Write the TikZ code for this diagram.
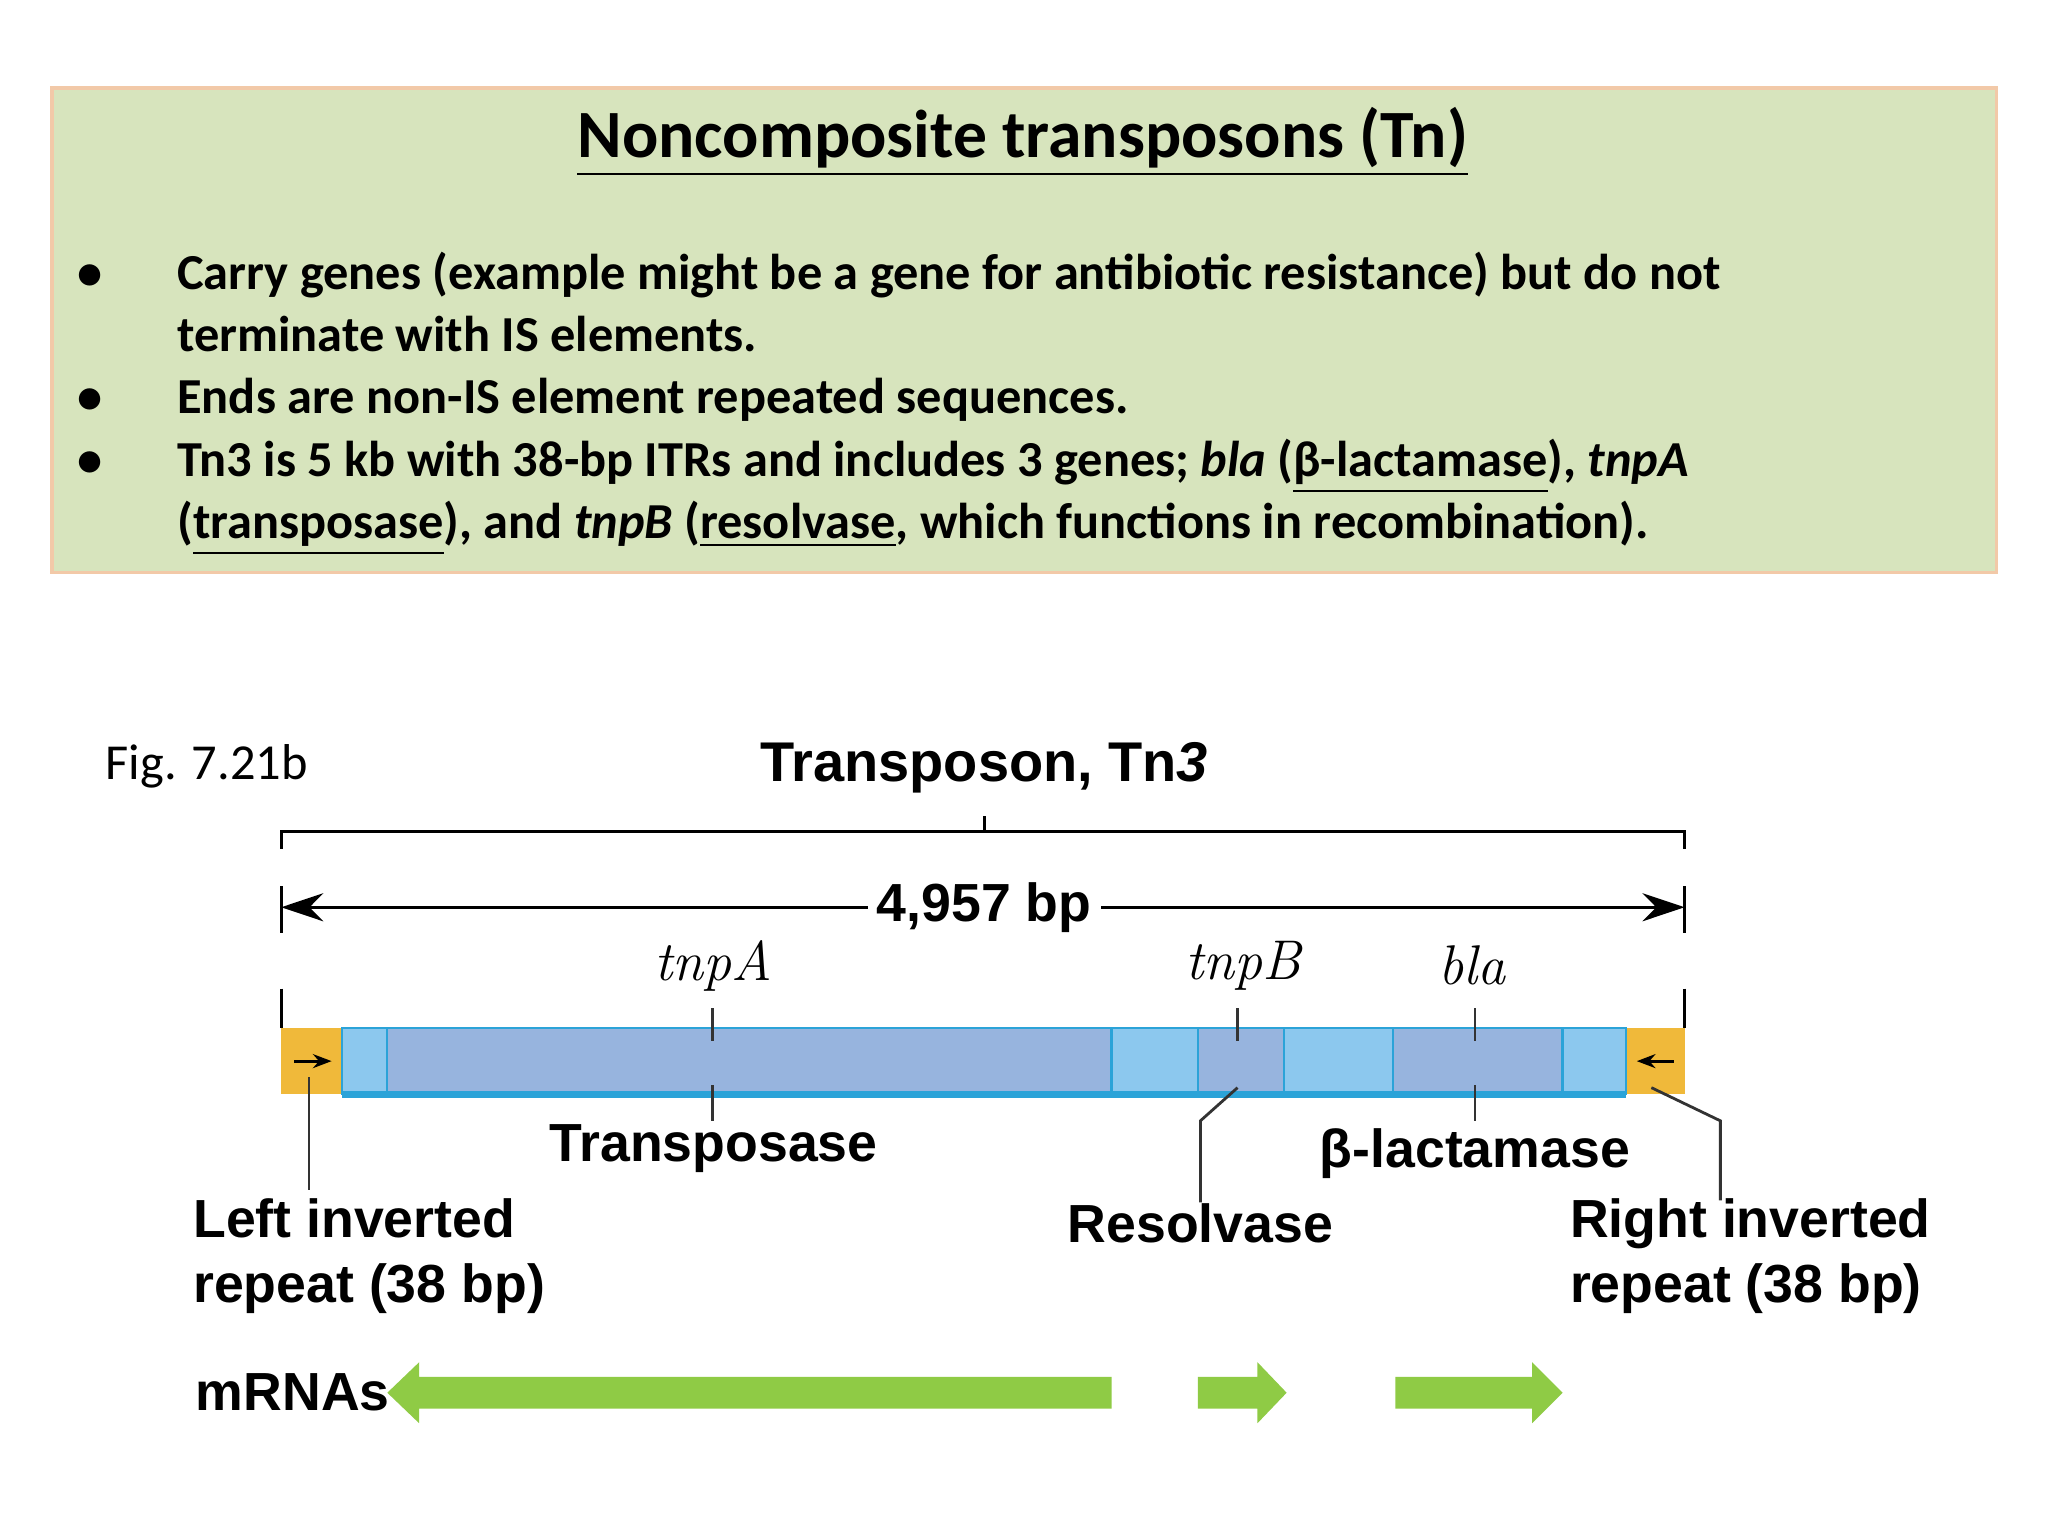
\documentclass[tikz,border=0pt]{standalone}
\usepackage{fontspec}
\setmainfont{Carlito}
\newfontfamily\arial{Liberation Sans}
\newfontfamily\lmserif{Latin Modern Roman}
\usetikzlibrary{arrows.meta}
\definecolor{boxgreen}{HTML}{D7E4BD}
\definecolor{boxedge}{HTML}{F2C9A8}
\definecolor{ylw}{HTML}{F0B93A}
\definecolor{lblue}{HTML}{8CC8EE}
\definecolor{dblue}{HTML}{97B4DE}
\definecolor{edgeblue}{HTML}{2BA3D8}
\definecolor{mgreen}{HTML}{8FCB45}
\tikzset{
 body/.style={font=\fontsize{10.8}{13}\selectfont\bfseries,anchor=base west,inner sep=0},
 lab/.style={font=\arial\fontsize{11.5}{14}\selectfont\bfseries,inner sep=0},
 gene/.style={font=\lmserif\fontsize{12}{14}\selectfont\itshape,inner sep=0},
 seg/.style={draw=edgeblue,line width=0.5pt},
 lead/.style={draw=black!80,line width=0.6pt},
 mrna/.style={fill=mgreen,draw=none}
}
\begin{document}
\begin{tikzpicture}[x=0.01cm,y=-0.01cm]
\useasboundingbox (0,0) rectangle (1544,1158);
\fill[white] (0,0) rectangle (1544,1158);
% text box
\node[draw=boxedge,fill=boxgreen,line width=0.8pt,minimum width=14.65cm,minimum height=3.65cm,anchor=north west,inner sep=0] (box) at (38,65) {};
\node[font=\fontsize{14.5}{17}\selectfont\bfseries,inner sep=0] (title) at (771,107) {\underline{Noncomposite transposons (Tn)}};
\node[body] (b1) at (58,218) {•};
\node[body] (b2) at (58,312) {•};
\node[body] (b3) at (58,359) {•};
\node[body] (t1) at (133,218) {Carry genes (example might be a gene for antibiotic resistance) but do not};
\node[body] (t2) at (133,265) {terminate with IS elements.};
\node[body] (t3) at (133,312) {Ends are non-IS element repeated sequences.};
\node[body] (t4) at (133,359) {Tn3 is 5 kb with 38-bp ITRs and includes 3 genes; \textit{bla} (\underline{β-lactamase}), \textit{tnpA}};
\node[body] (t5) at (133,406) {(\underline{transposase}), and \textit{tnpB} (\underline{resolvase}, which functions in recombination).};
% figure
\node[font=\fontsize{10.8}{13}\selectfont,anchor=west,inner sep=0] (fig) at (79,578) {Fig. 7.21b};
\node[lab,font=\arial\fontsize{12}{14}\selectfont\bfseries] (tn) at (742,579) {Transposon, Tn\textit{3}};
% bracket
\coordinate (bl) at (212,640); \coordinate (br) at (1270,640);
\draw[line width=0.7pt] (bl) -- (212,627) -- (1270,627) -- (br);
\coordinate (bc1) at (742,627); \coordinate (bc2) at (742,615);
\draw[line width=0.7pt] (bc1) -- (bc2);
% dimension
\coordinate (dl) at (212,684); \coordinate (dr) at (1270,684);
\draw[line width=0.7pt,{Stealth[length=9pt,width=6pt]}-{Stealth[length=9pt,width=6pt]}] (dl) -- (dr);
\node[lab,fill=white,inner sep=2pt] (bp) at (742,684) {4,957 bp};
\draw[line width=0.7pt,dash pattern=on 10pt off 12pt] (212,668) -- (212,775);
\draw[line width=0.7pt,dash pattern=on 10pt off 12pt] (1270,668) -- (1270,775);
% bar
\fill[ylw] (212,775) rectangle (258,825);
\fill[ylw] (1226,775) rectangle (1270,825);
\foreach \a/\b/\c in {258/292/lblue,292/838/dblue,838/903/lblue,903/968/dblue,968/1050/lblue,1050/1178/dblue,1178/1226/lblue}
  \filldraw[fill=\c,seg] (\a,775) rectangle (\b,825);
\draw[edgeblue,line width=1.4pt] (258,825) -- (1226,825);
\draw[-{Stealth[length=4pt]},line width=0.6pt] (222,800) -- (250,800);
\draw[-{Stealth[length=4pt]},line width=0.6pt] (1262,800) -- (1234,800);
% genes
\node[gene] (tnpA) at (538,728) {tnpA};
\node[gene] (tnpB) at (937,728) {tnpB};
\node[gene] (bla) at (1110,728) {bla};
\draw[lead] (537,760) -- (537,785);
\draw[lead] (933,760) -- (933,785);
\draw[lead] (1112,760) -- (1112,785);
\draw[lead] (537,818) -- (537,845);
\draw[lead] (1112,818) -- (1112,845);
\node[lab] (tp) at (538,866) {Transposase};
\node[lab] (bl2) at (1112,870) {β-lactamase};
\node[lab] (res) at (905,922) {Resolvase};
\draw[lead] (933,820) -- (905,845) -- (res.north);
\node[lab,align=left,anchor=north west] (lir) at (145,903) {Left inverted\\repeat (38 bp)};
\draw[lead] (233,812) -- (233,897);
\node[lab,align=left,anchor=north west] (rir) at (1183,903) {Right inverted\\repeat (38 bp)};
\draw[lead] (1245,820) -- (1297,845) -- (1297,905);
% mRNAs
\node[lab,anchor=west] (mr) at (147,1050) {mRNAs};
\fill[mrna] (838,1038) -- (316,1038) -- (316,1027) -- (292,1050) -- (316,1073) -- (316,1062) -- (838,1062) -- cycle;
\fill[mrna] (903,1038) -- (948,1038) -- (948,1027) -- (970,1050) -- (948,1073) -- (948,1062) -- (903,1062) -- cycle;
\fill[mrna] (1052,1038) -- (1155,1038) -- (1155,1027) -- (1178,1050) -- (1155,1073) -- (1155,1062) -- (1052,1062) -- cycle;
\end{tikzpicture}
\end{document}
